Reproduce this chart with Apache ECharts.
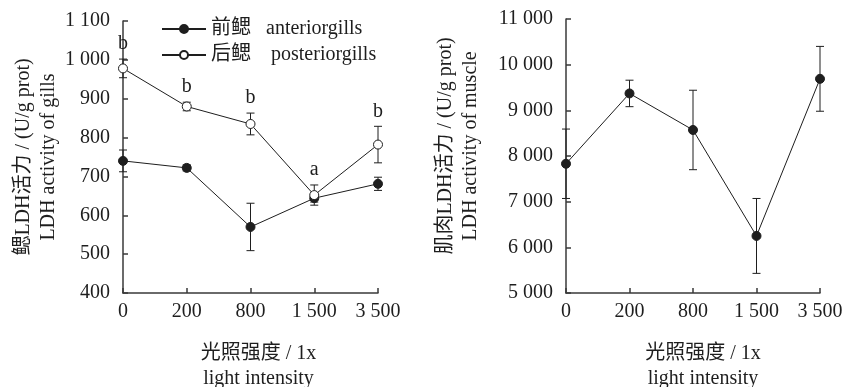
<!DOCTYPE html>
<html><head><meta charset="utf-8">
<script src="https://cdn.jsdelivr.net/npm/echarts@6/dist/echarts.min.js"></script>
<style>html,body{margin:0;padding:0;background:#fff}#c{width:852px;height:387px}</style>
</head><body><div id="c"></div>
<script>
const categories = ['0', '200', '800', '1 500', '3 500'];
const anteriorMean = [740, 722, 570, 644, 681];
const anteriorErr = [28, 8, 61, 10, 17];
const posteriorMean = [978, 880, 835, 652, 782];
const posteriorErr = [24, 11, 28, 26, 47];
const posteriorLetters = ['b', 'b', 'b', 'a', 'b'];
const muscleMean = [7830, 9370, 8570, 6250, 9690];
const muscleErr = [760, 290, 870, 820, 710];
const gillAxis = {min: 400, max: 1100, interval: 100};
const muscleAxis = {min: 5000, max: 11000, interval: 1000};
const seriesNames = ['前鳃   anteriorgills', '后鳃    posteriorgills'];
const xName = '光照强度 / 1x\nlight intensity';
const gillYName = '鳃LDH活力 / (U/g prot)\nLDH activity of gills';
const muscleYName = '肌肉LDH活力 / (U/g prot)\nLDH activity of muscle';

const FONT = "'Liberation Serif', 'Noto Sans CJK SC', serif";
const INK = '#1e1e1e';
const AXIS = '#3a3a3a';

function fmt(v) {
  const s = String(v);
  if (s.length > 3) return s.slice(0, s.length - 3) + ' ' + s.slice(s.length - 3);
  return s;
}

function errData(mean, err) {
  return mean.map((m, i) => [i, m - err[i], m + err[i]]);
}

function errRender(params, api) {
  const lo = api.coord([api.value(0), api.value(1)]);
  const hi = api.coord([api.value(0), api.value(2)]);
  const w = 4;
  const st = {stroke: INK, lineWidth: 1};
  return {type: 'group', children: [
    {type: 'line', shape: {x1: lo[0], y1: lo[1], x2: hi[0], y2: hi[1]}, style: st},
    {type: 'line', shape: {x1: lo[0] - w, y1: lo[1], x2: lo[0] + w, y2: lo[1]}, style: st},
    {type: 'line', shape: {x1: hi[0] - w, y1: hi[1], x2: hi[0] + w, y2: hi[1]}, style: st}
  ]};
}

function letterRender(params, api) {
  const hi = api.coord([api.value(0), api.value(1)]);
  return {type: 'text', style: {
    text: posteriorLetters[params.dataIndex], x: hi[0], y: hi[1] - 15,
    align: 'center', verticalAlign: 'middle', font: '20px ' + FONT, fill: INK
  }};
}

function xAxisCfg(gridIndex, pad) {
  return {
    type: 'category', gridIndex, data: categories, boundaryGap: false,
    axisLine: {lineStyle: {color: AXIS, width: 1.5}},
    axisTick: {inside: true, length: 5, lineStyle: {color: AXIS, width: 1.5}},
    axisLabel: {color: INK, fontFamily: FONT, fontSize: 20, margin: 9},
    name: xName, nameLocation: 'middle', nameGap: 48,
    nameTextStyle: {color: INK, fontFamily: FONT, fontSize: 20, lineHeight: 25, padding: [0, 0, 0, pad]}
  };
}

function yAxisCfg(gridIndex, ax, name, gap, pad) {
  return {
    type: 'value', gridIndex, min: ax.min, max: ax.max, interval: ax.interval,
    splitLine: {show: false},
    axisLine: {show: true, lineStyle: {color: AXIS, width: 1.5}},
    axisTick: {show: true, inside: true, length: 5, lineStyle: {color: AXIS, width: 1.5}},
    axisLabel: {color: INK, fontFamily: FONT, fontSize: 20, margin: 13, formatter: fmt},
    name, nameLocation: 'middle', nameGap: gap, nameRotate: 90,
    nameTextStyle: {color: INK, fontFamily: FONT, fontSize: 20, lineHeight: 25, padding: pad}
  };
}

const chart = echarts.init(document.getElementById('c'), null, {renderer: 'canvas'});
chart.setOption({
  animation: false,
  backgroundColor: '#fff',
  textStyle: {fontFamily: FONT},
  legend: {
    orient: 'vertical', left: 156, top: 14, itemWidth: 44, itemHeight: 10, itemGap: 6,
    textStyle: {color: INK, fontFamily: FONT, fontSize: 20},
    data: seriesNames
  },
  grid: [
    {left: 123, right: 474, top: 21, bottom: 94, containLabel: false, outerBoundsMode: 'none'},
    {left: 566, right: 32, top: 19, bottom: 94, containLabel: false, outerBoundsMode: 'none'}
  ],
  xAxis: [xAxisCfg(0, 16), xAxisCfg(1, 20)],
  yAxis: [
    yAxisCfg(0, gillAxis, gillYName, 62, [0, 0, 0, 0]),
    yAxisCfg(1, muscleAxis, muscleYName, 83, [0, 0, 0, 20])
  ],
  series: [
    {type: 'custom', xAxisIndex: 0, yAxisIndex: 0, renderItem: errRender, data: errData(anteriorMean, anteriorErr), z: 1, silent: true},
    {type: 'custom', xAxisIndex: 0, yAxisIndex: 0, renderItem: errRender, data: errData(posteriorMean, posteriorErr), z: 1, silent: true},
    {type: 'custom', xAxisIndex: 0, yAxisIndex: 0, renderItem: letterRender,
      data: posteriorMean.map((m, i) => [i, m + posteriorErr[i]]), z: 3, silent: true},
    {name: seriesNames[0], type: 'line', xAxisIndex: 0, yAxisIndex: 0, data: anteriorMean,
      symbol: 'circle', symbolSize: 9, lineStyle: {color: INK, width: 1},
      itemStyle: {color: INK, borderColor: INK, borderWidth: 1}, z: 2},
    {name: seriesNames[1], type: 'line', xAxisIndex: 0, yAxisIndex: 0, data: posteriorMean,
      symbol: 'circle', symbolSize: 9, lineStyle: {color: INK, width: 1},
      itemStyle: {color: '#fff', borderColor: INK, borderWidth: 1}, z: 2},
    {type: 'custom', xAxisIndex: 1, yAxisIndex: 1, renderItem: errRender, data: errData(muscleMean, muscleErr), z: 1, silent: true},
    {type: 'line', xAxisIndex: 1, yAxisIndex: 1, data: muscleMean,
      symbol: 'circle', symbolSize: 9, lineStyle: {color: INK, width: 1},
      itemStyle: {color: INK, borderColor: INK, borderWidth: 1}, z: 2}
  ]
});
</script></body></html>
